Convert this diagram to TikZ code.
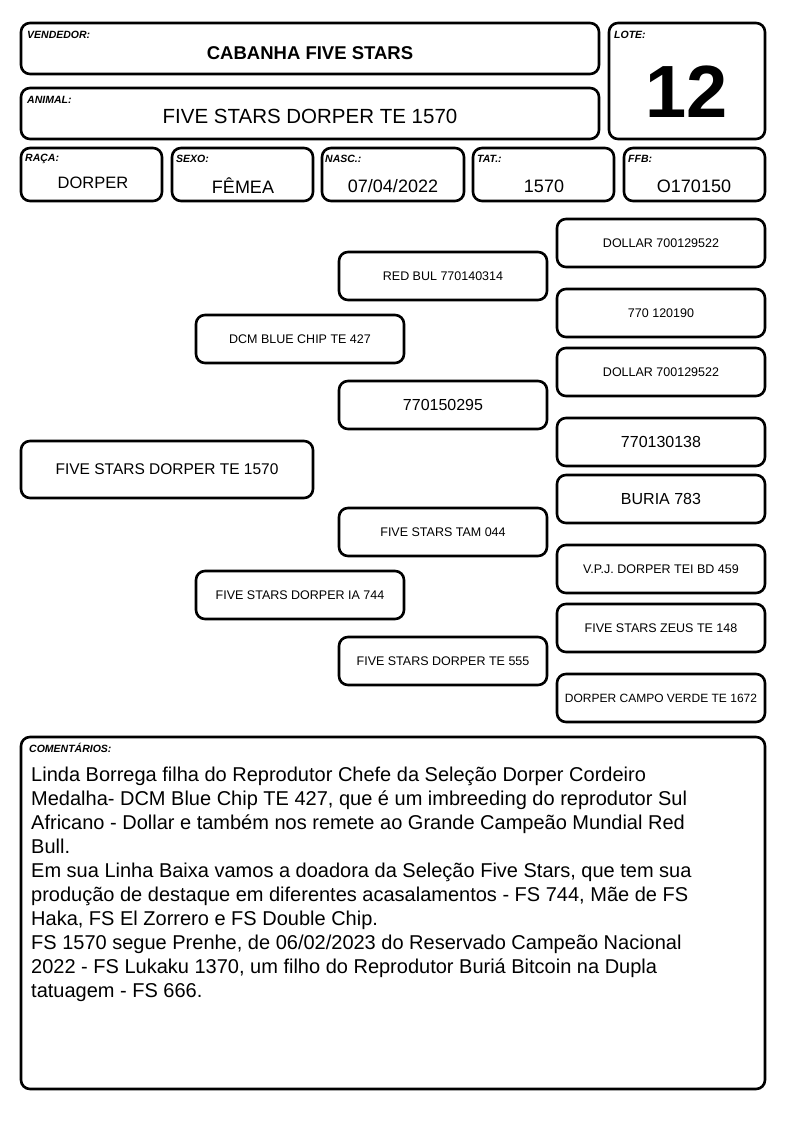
\documentclass[tikz,border=0pt]{standalone}
\usepackage{fontspec}
\setmainfont{Liberation Sans}
\begin{document}
\begin{tikzpicture}[x=1pt,y=-1pt,
 box/.style={draw, line width=2.6pt, rounded corners=9pt, inner sep=0pt},
 lbl/.style={font=\fontsize{10.5}{11}\selectfont\bfseries\itshape, anchor=west, inner sep=0pt},
 val/.style={inner sep=0pt, font=\fontsize{18}{20}\selectfont},
 ped/.style={box, minimum width=208, minimum height=48, font=\fontsize{12.5}{14}\selectfont},
 pedL/.style={ped, font=\fontsize{16}{18}\selectfont},
 com/.style={anchor=base west, inner sep=0pt, font=\fontsize{20}{24}\selectfont}]
\useasboundingbox[fill=white] (0,0) rectangle (794,1123);
% header
\node[box, minimum width=578, minimum height=51] (vend) at (310,48.5) {};
\node[lbl] (vendl) at (27,35) {VENDEDOR:};
\node[val, font=\fontsize{18.5}{20}\selectfont\bfseries] (vendv) at (310,53) {CABANHA FIVE STARS};
\node[box, minimum width=578, minimum height=51] (anim) at (310,113.5) {};
\node[lbl] (animl) at (27,100) {ANIMAL:};
\node[val, font=\fontsize{20.5}{22}\selectfont] (animv) at (310,116) {FIVE STARS DORPER TE 1570};
\node[box, minimum width=156, minimum height=116] (lote) at (687,81) {};
\node[lbl] (lotel) at (614,35) {LOTE:};
\node[val, font=\fontsize{74}{80}\selectfont\bfseries] (lotev) at (687,92) {12};
% row
\node[box, minimum width=141, minimum height=53] (raca) at (91.5,174.5) {};
\node[lbl] (racal) at (25,159) {RAÇA:};
\node[val, font=\fontsize{16.5}{18}\selectfont] (racav) at (93,183) {DORPER};
\node[box, minimum width=141, minimum height=53] (sexo) at (242.5,174.5) {};
\node[lbl] (sexol) at (176,159) {SEXO:};
\node[val] (sexov) at (243,186) {FÊMEA};
\node[box, minimum width=142, minimum height=53] (nasc) at (393,174.5) {};
\node[lbl] (nascl) at (325,159) {NASC.:};
\node[val] (nascv) at (393,186) {07/04/2022};
\node[box, minimum width=141, minimum height=53] (tat) at (543.5,174.5) {};
\node[lbl] (tatl) at (477,159) {TAT.:};
\node[val] (tatv) at (544,186) {1570};
\node[box, minimum width=141, minimum height=53] (ffb) at (694.5,174.5) {};
\node[lbl] (ffbl) at (628,159) {FFB:};
\node[val] (ffbv) at (694,186) {O170150};
% pedigree
\node[box, minimum width=292, minimum height=57, font=\fontsize{15.5}{18}\selectfont] (p0) at (167,469.5) {FIVE STARS DORPER TE 1570};
\node[ped] (p1) at (300,339) {DCM BLUE CHIP TE 427};
\node[ped] (p2) at (300,595) {FIVE STARS DORPER IA 744};
\node[ped] (p3) at (443,276) {RED BUL 770140314};
\node[pedL] (p4) at (443,405) {770150295};
\node[ped] (p5) at (443,532) {FIVE STARS TAM 044};
\node[ped] (p6) at (443,661) {FIVE STARS DORPER TE 555};
\node[ped] (p7) at (661,243) {DOLLAR 700129522};
\node[ped] (p8) at (661,313) {770 120190};
\node[ped] (p9) at (661,372) {DOLLAR 700129522};
\node[pedL] (p10) at (661,442) {770130138};
\node[pedL] (p11) at (661,499) {BURIA 783};
\node[ped] (p12) at (661,569) {V.P.J. DORPER TEI BD 459};
\node[ped] (p13) at (661,628) {FIVE STARS ZEUS TE 148};
\node[ped, font=\fontsize{12}{14}\selectfont] (p14) at (661,698) {DORPER CAMPO VERDE TE 1672};
% comments
\node[box, minimum width=744, minimum height=352] (comm) at (393,913) {};
\node[lbl] (comml) at (29,748) {COMENTÁRIOS:};
\node[com] (c1) at (31,781) {Linda Borrega filha do Reprodutor Chefe da Seleção Dorper Cordeiro};
\node[com] (c2) at (31,805) {Medalha- DCM Blue Chip TE 427, que é um imbreeding do reprodutor Sul};
\node[com] (c3) at (31,829) {Africano - Dollar e também nos remete ao Grande Campeão Mundial Red};
\node[com] (c4) at (31,853) {Bull.};
\node[com] (c5) at (31,877) {Em sua Linha Baixa vamos a doadora da Seleção Five Stars, que tem sua};
\node[com] (c6) at (31,901) {produção de destaque em diferentes acasalamentos - FS 744, Mãe de FS};
\node[com] (c7) at (31,925) {Haka, FS El Zorrero e FS Double Chip.};
\node[com] (c8) at (31,949) {FS 1570 segue Prenhe, de 06/02/2023 do Reservado Campeão Nacional};
\node[com] (c9) at (31,973) {2022 - FS Lukaku 1370, um filho do Reprodutor Buriá Bitcoin na Dupla};
\node[com] (c10) at (31,997) {tatuagem - FS 666.};
\end{tikzpicture}
\end{document}
